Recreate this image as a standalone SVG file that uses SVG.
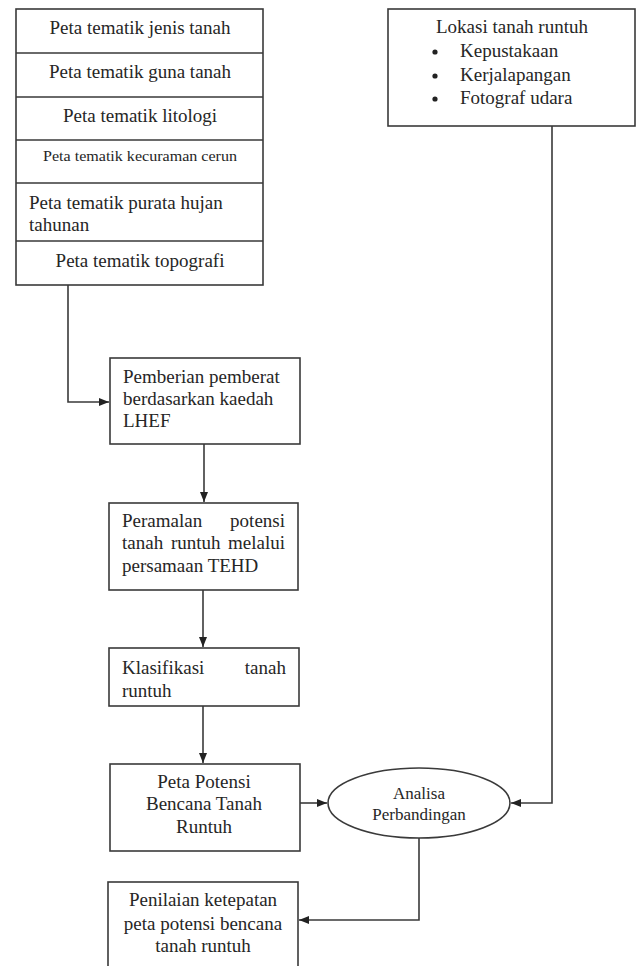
<svg xmlns="http://www.w3.org/2000/svg" width="639" height="966" viewBox="0 0 639 966">
<style>
.b{fill:#fff;stroke:#3a3a3a;stroke-width:1.6}
.t{font-family:"Liberation Serif","Times New Roman",serif;font-size:19px;fill:#262626}
.c{text-anchor:middle}
.e{text-anchor:end}
.s{font-size:14px}
.m{font-size:17px}
.ln{fill:none;stroke:#3a3a3a;stroke-width:1.6}
</style>
<defs>
<marker id="ah" markerUnits="userSpaceOnUse" markerWidth="10" markerHeight="8" refX="10" refY="4" orient="auto">
<path d="M0,0 L10,4 L0,8 z" fill="#222"/>
</marker>
</defs>
<rect width="639" height="966" fill="#fff"/>
<g id="connectors">
<path class="ln" d="M68,285 V402 H109" marker-end="url(#ah)"/>
<path class="ln" d="M204,444 V502" marker-end="url(#ah)"/>
<path class="ln" d="M203,590 V647" marker-end="url(#ah)"/>
<path class="ln" d="M203,706 V763" marker-end="url(#ah)"/>
<path class="ln" d="M300,803 H327" marker-end="url(#ah)"/>
<path class="ln" d="M552,126 V803 H511" marker-end="url(#ah)"/>
<path class="ln" d="M419,838 V920 H299" marker-end="url(#ah)"/>
</g>
<g id="stack">
<rect class="b" x="16" y="9" width="247" height="276"/>
<path class="ln" d="M16,53 H263 M16,97 H263 M16,140 H263 M16,183 H263 M16,241 H263"/>
<text class="t c" x="140" y="34">Peta tematik jenis tanah</text>
<text class="t c" x="140" y="78">Peta tematik guna tanah</text>
<text class="t c" x="140" y="122">Peta tematik litologi</text>
<text class="t c s" x="140" y="161" textLength="194" lengthAdjust="spacingAndGlyphs">Peta tematik kecuraman cerun</text>
<text class="t" x="29" y="209">Peta tematik purata hujan</text>
<text class="t" x="29" y="231">tahunan</text>
<text class="t c" x="140" y="267">Peta tematik topografi</text>
</g>
<g id="lokasi">
<rect class="b" x="388" y="9" width="247" height="117"/>
<text class="t c" x="512" y="33">Lokasi tanah runtuh</text>
<circle cx="435" cy="52" r="2.6" fill="#222"/>
<circle cx="435" cy="76" r="2.6" fill="#222"/>
<circle cx="435" cy="99" r="2.6" fill="#222"/>
<text class="t" x="460" y="57">Kepustakaan</text>
<text class="t" x="460" y="81">Kerjalapangan</text>
<text class="t" x="460" y="104">Fotograf udara</text>
</g>
<g id="lhef">
<rect class="b" x="110" y="358" width="190" height="86"/>
<text class="t" x="123" y="383">Pemberian pemberat</text>
<text class="t" x="123" y="405">berdasarkan kaedah</text>
<text class="t" x="123" y="427">LHEF</text>
</g>
<g id="tehd">
<rect class="b" x="109" y="503" width="189" height="87"/>
<text class="t" x="122" y="527">Peramalan</text>
<text class="t e" x="285" y="527">potensi</text>
<text class="t" x="122" y="549">tanah</text>
<text class="t" x="171" y="549">runtuh</text>
<text class="t e" x="285" y="549">melalui</text>
<text class="t" x="122" y="572">persamaan TEHD</text>
</g>
<g id="klasifikasi">
<rect class="b" x="109" y="648" width="190" height="58"/>
<text class="t" x="122" y="674">Klasifikasi</text>
<text class="t e" x="286" y="674">tanah</text>
<text class="t" x="122" y="697">runtuh</text>
</g>
<g id="peta-potensi">
<rect class="b" x="110" y="764" width="190" height="87"/>
<text class="t c" x="204" y="788">Peta Potensi</text>
<text class="t c" x="204" y="810">Bencana Tanah</text>
<text class="t c" x="204" y="833">Runtuh</text>
</g>
<g id="analisa">
<ellipse class="b" cx="419" cy="803" rx="91" ry="35"/>
<text class="t c m" x="419" y="799">Analisa</text>
<text class="t c m" x="419" y="820">Perbandingan</text>
</g>
<g id="penilaian">
<rect class="b" x="108" y="882" width="190" height="100"/>
<text class="t c" x="203" y="906">Penilaian ketepatan</text>
<text class="t c" x="203" y="930">peta potensi bencana</text>
<text class="t c" x="203" y="952">tanah runtuh</text>
</g>
</svg>
